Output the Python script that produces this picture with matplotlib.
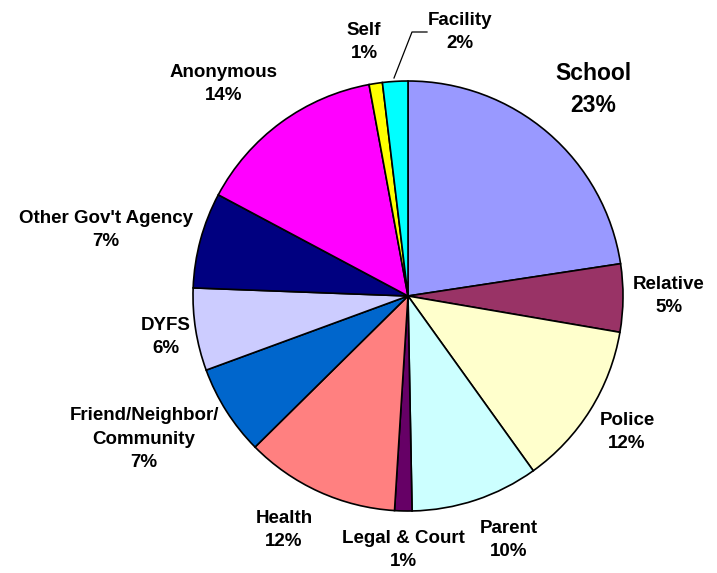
import numpy as np
import matplotlib.pyplot as plt

plt.rcParams['font.family'] = ['Liberation Sans', 'DejaVu Sans']

# referral sources, clockwise from 12 o'clock
sources = ["School", "Relative", "Police", "Parent", "Legal & Court", "Health",
           "Friend/Neighbor/\nCommunity", "DYFS", "Other Gov't Agency",
           "Anonymous", "Self", "Facility"]
shares = [22.6, 5.1, 12.4, 9.6, 1.3, 11.6, 6.8, 6.2, 7.2, 14.3, 1.0, 1.9]
colors = ["#9999FF", "#993366", "#FFFFCC", "#CCFFFF", "#660066", "#FF8080",
          "#0066CC", "#CCCCFF", "#000080", "#FF00FF", "#FFFF00", "#00FFFF"]

W, H = 717, 573
cx, cy, R = 408, 296, 215

# label centres in pixels
label_px = [(593, 90), (669, 296), (627, 432), (509, 540), (403, 550), (284, 530),
            (144, 439), (166, 337), (106, 230), (224, 84), (364, 42), (460, 32)]


def to_data(px, py):
    return (px - cx) / R, (cy - py) / R


fig = plt.figure(figsize=(W / 100, H / 100), dpi=100)
ax = fig.add_axes([0, 0, 1, 1])
ax.pie(shares, colors=colors, startangle=90, counterclock=False,
       wedgeprops=dict(edgecolor='black', linewidth=1.2))
ax.set_xlim(-cx / R, (W - cx) / R)
ax.set_ylim((cy - H) / R, cy / R)
ax.set_aspect('auto')
ax.axis('off')

for i, (name, v) in enumerate(zip(sources, shares)):
    x, y = to_data(*label_px[i])
    size = 16.5 if name == "School" else 13.5
    ax.text(x, y, f"{name}\n{round(v)}%", ha='center', va='center',
            fontsize=size, fontweight='bold', linespacing=1.5,
            multialignment='center')

# leader line for Facility
pts = [to_data(394, 78), to_data(412, 32), to_data(427, 32)]
ax.plot([p[0] for p in pts], [p[1] for p in pts], color='black', lw=0.9)

fig.savefig("out.png", dpi=100)
